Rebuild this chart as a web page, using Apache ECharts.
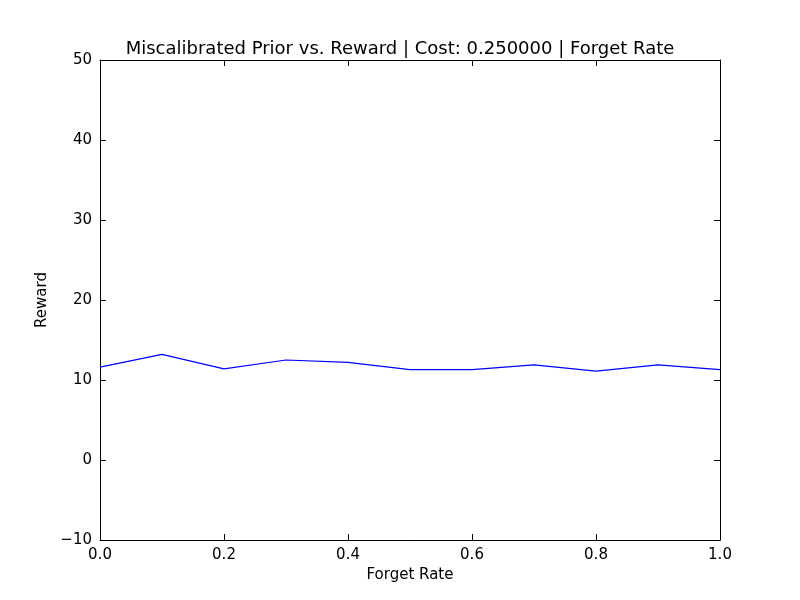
<!DOCTYPE html>
<html><head><meta charset="utf-8">
<script src="https://cdn.jsdelivr.net/npm/echarts@6/dist/echarts.min.js"></script>
<style>html,body{margin:0;background:#fff}#c{width:800px;height:600px}</style>
</head><body><div id="c"></div>
<script>
const forgetRates = [0.0,0.1,0.2,0.3,0.4,0.5,0.6,0.7,0.8,0.9,1.0];
const rewards = [11.6,13.2,11.4,12.5,12.2,11.3,11.3,11.9,11.1,11.9,11.3];
const chart = echarts.init(document.getElementById('c'));
const font = 'DejaVu Sans';
const axisCommon = {
  axisLine:{show:true,onZero:false,lineStyle:{color:'#000',width:1}},
  axisTick:{show:true,inside:true,length:6,lineStyle:{color:'#000'}},
  splitLine:{show:false},
  axisLabel:{color:'#000',fontFamily:font,fontSize:15,margin:8}
};
chart.setOption({
  animation:false,
  title:{text:'Miscalibrated Prior vs. Reward | Cost: 0.250000 | Forget Rate',left:'center',top:35,
    textStyle:{fontFamily:font,fontSize:18,fontWeight:'normal',color:'#000'}},
  grid:{left:100,right:80,top:60,bottom:60},
  xAxis:[{type:'value',min:0,max:1,interval:0.2,name:'Forget Rate',nameLocation:'middle',nameGap:28,
    nameTextStyle:{fontFamily:font,fontSize:15,color:'#000'},...axisCommon,
    axisLabel:{...axisCommon.axisLabel,formatter:v=>v.toFixed(1)}},
    {type:'value',min:0,max:1,interval:0.2,position:'top',...axisCommon,axisLabel:{show:false}}],
  yAxis:[{type:'value',min:-10,max:50,interval:10,name:'Reward',nameLocation:'middle',nameGap:50,
    nameTextStyle:{fontFamily:font,fontSize:15,color:'#000'},...axisCommon,
    axisLabel:{...axisCommon.axisLabel,formatter:v=>v<0?'\u2212'+(-v):''+v}},
    {type:'value',min:-10,max:50,interval:10,position:'right',...axisCommon,axisLabel:{show:false}}],
  series:[{type:'line',data:forgetRates.map((x,i)=>[x,rewards[i]]),showSymbol:false,
    lineStyle:{color:'#0000ff',width:1.2}}]
});
</script></body></html>
